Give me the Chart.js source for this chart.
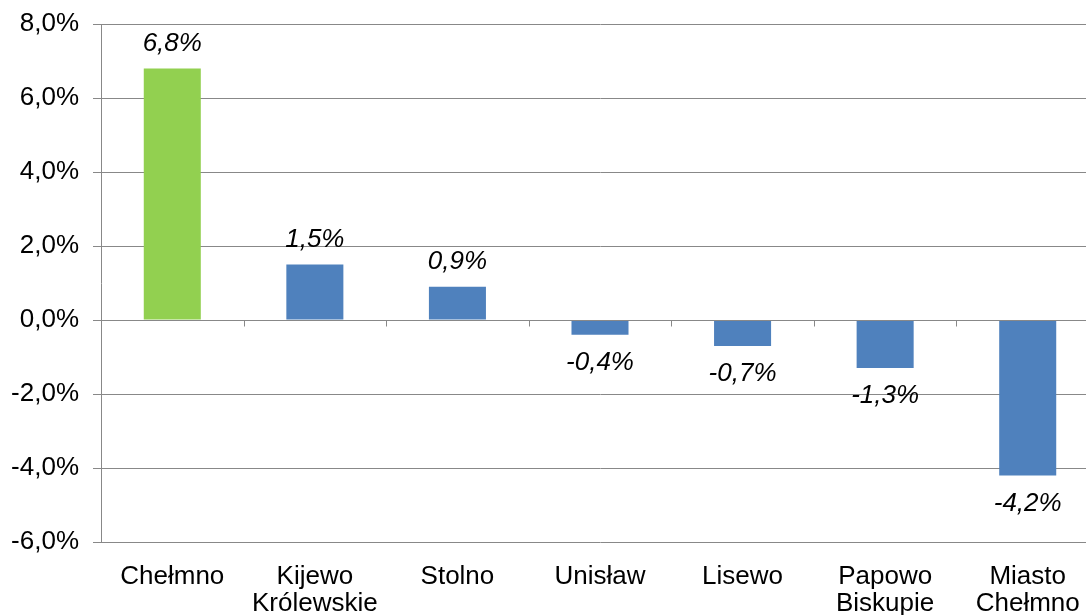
<!DOCTYPE html>
<html>
<head>
<meta charset="utf-8">
<script src="https://cdn.jsdelivr.net/npm/chart.js@4"></script>
<style>
  html, body { margin: 0; padding: 0; background: #fff; overflow: hidden; }
  #wrap { width: 1099px; height: 615px; }
</style>
</head>
<body>
<div id="wrap"><canvas id="myChart"></canvas></div>
<script>
const categories = [['Chełmno'], ['Kijewo', 'Królewskie'], ['Stolno'], ['Unisław'], ['Lisewo'], ['Papowo', 'Biskupie'], ['Miasto', 'Chełmno']];
const values = [6.8, 1.5, 0.9, -0.4, -0.7, -1.3, -4.2];
const barColors = ['#92d050', '#4f81bd', '#4f81bd', '#4f81bd', '#4f81bd', '#4f81bd', '#4f81bd'];
const yMin = -6, yMax = 8, yStep = 2;

const fmt = v => v.toFixed(1).replace('.', ',') + '%';
const gridColor = '#888888';

// tick marks on the zero line between categories
const zeroTicks = {
    id: 'zeroTicks',
    afterDatasetsDraw(chart) {
        const x = chart.scales.x, y = chart.scales.y;
        const ctx = chart.ctx;
        const y0 = Math.round(y.getPixelForValue(0)) + 0.5;
        const half = (x.getPixelForValue(1) - x.getPixelForValue(0)) / 2;
        ctx.save();
        ctx.strokeStyle = gridColor;
        ctx.lineWidth = 1;
        ctx.beginPath();
        ctx.moveTo(x.left, y0);
        ctx.lineTo(x.right, y0);
        for (let i = 1; i <= categories.length; i++) {
            const px = Math.round(x.getPixelForValue(i) - half) + 0.5;
            ctx.moveTo(px, y0);
            ctx.lineTo(px, y0 + 6);
        }
        ctx.stroke();
        ctx.restore();
    }
};

// italic value labels at the bar ends
const valueLabels = {
    id: 'valueLabels',
    afterDatasetsDraw(chart) {
        const ctx = chart.ctx;
        const meta = chart.getDatasetMeta(0);
        ctx.save();
        ctx.font = 'italic 26px "Liberation Sans", Arial, sans-serif';
        ctx.fillStyle = '#000';
        ctx.textAlign = 'center';
        ctx.textBaseline = 'middle';
        meta.data.forEach((bar, i) => {
            const v = values[i];
            const ty = v >= 0 ? bar.y - 25 : bar.y + 28;
            ctx.fillText(fmt(v), bar.x, ty);
        });
        ctx.restore();
    }
};

new Chart(document.getElementById('myChart'), {
    type: 'bar',
    data: {
        labels: categories,
        datasets: [{
            data: values,
            backgroundColor: barColors,
            borderWidth: 0,
            barPercentage: 0.4,
            categoryPercentage: 1
        }]
    },
    options: {
        responsive: true,
        maintainAspectRatio: false,
        animation: false,
        layout: { padding: { top: 24, left: 0, right: 0, bottom: 0 } },
        plugins: {
            legend: { display: false },
            tooltip: { enabled: false }
        },
        scales: {
            x: {
                grid: { display: false, drawTicks: false },
                border: { display: false },
                ticks: {
                    color: '#000',
                    padding: 21,
                    maxRotation: 0,
                    autoSkip: false,
                    font: { family: '"Liberation Sans", Arial, sans-serif', size: 26, lineHeight: 1.04 }
                },
                afterFit: s => { s.height = 73; s.paddingLeft = 0; s.paddingRight = 0; }
            },
            y: {
                min: yMin,
                max: yMax,
                ticks: {
                    stepSize: yStep,
                    color: '#000',
                    padding: 14,
                    callback: v => fmt(v),
                    font: { family: '"Liberation Sans", Arial, sans-serif', size: 26 }
                },
                grid: { color: gridColor, lineWidth: 1, tickLength: 8 },
                border: { color: gridColor, width: 1 },
                afterFit: s => { s.width = 101; s.paddingTop = 0; s.paddingBottom = 0; }
            }
        }
    },
    plugins: [zeroTicks, valueLabels]
});
</script>
</body>
</html>
